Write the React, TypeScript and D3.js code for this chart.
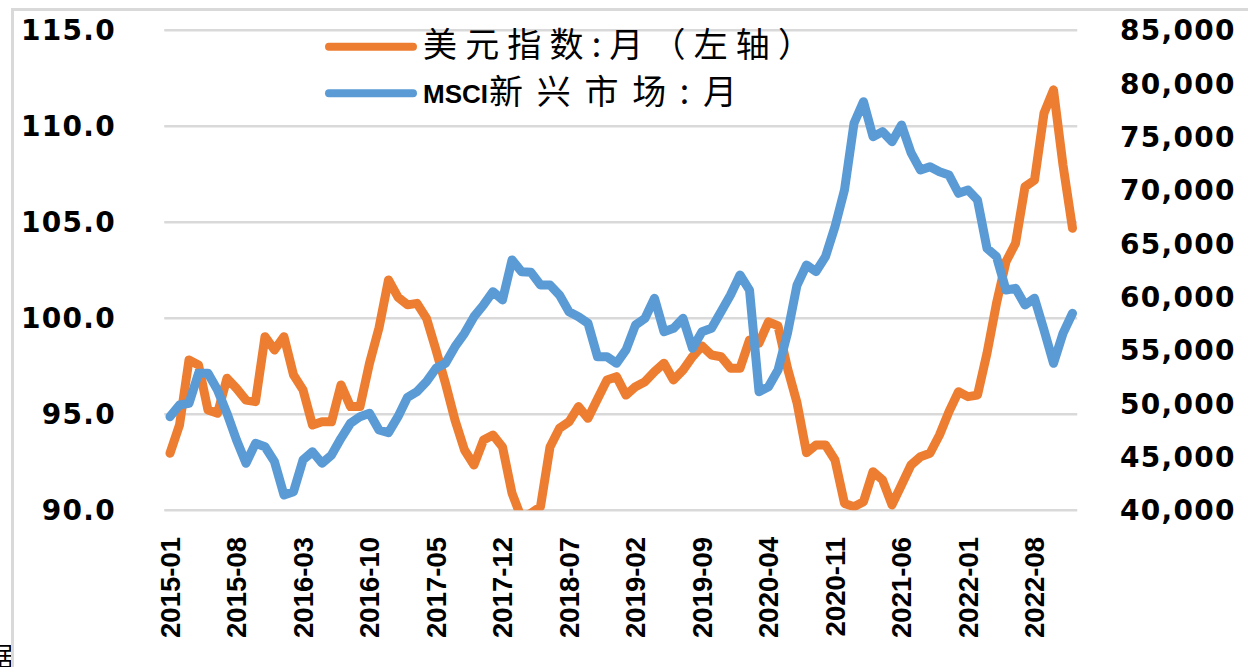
import React, { useEffect, useRef } from "react";
import * as d3 from "d3";

// monthly categories 2015-01 .. 2022-12
const months: string[] = d3
	.timeMonth.range(new Date(2015, 0, 1), new Date(2023, 0, 1))
	.map((d) => d3.timeFormat("%Y-%m")(d));

// shown tick labels on the category axis
const tickLabels = [
	"2015-01", "2015-08", "2016-03", "2016-10", "2017-05", "2017-12", "2018-07",
	"2019-02", "2019-09", "2020-04", "2020-11", "2021-06", "2022-01", "2022-08",
];

// 美元指数 (left axis)
const dxy = [
	92.97, 94.44, 97.83, 97.57, 95.22, 95.05, 96.88, 96.35, 95.74, 95.66,
	99.04, 98.35, 99.04, 97.05, 96.27, 94.44, 94.61, 94.61, 96.53, 95.4,
	95.4, 97.66, 99.5, 102.0, 101.1, 100.7, 100.78, 100.0, 98.35, 96.6,
	94.7, 93.14, 92.36, 93.66, 93.92, 93.3, 90.89, 89.6, 89.85, 90.19,
	93.3, 94.27, 94.61, 95.4, 94.79, 95.8, 96.79, 96.96, 96.0, 96.44,
	96.7, 97.22, 97.66, 96.79, 97.3, 98.0, 98.56, 98.09, 98.0, 97.4,
	97.4, 98.87, 98.7, 99.82, 99.6, 97.4, 95.6, 93.0, 93.4, 93.4,
	92.62, 90.36, 90.19, 90.45, 92.01, 91.58, 90.28, 91.32, 92.36, 92.79,
	92.97, 93.92, 95.14, 96.18, 95.92, 96.0, 98.18, 100.78, 102.95, 103.9,
	106.85, 107.2, 110.68, 111.9, 107.98, 104.69,
];

// MSCI新兴市场 (right axis)
const msci = [
	48775, 49870, 50030, 52840, 52840, 51280, 49090, 46590, 44410, 46280,
	45960, 44560, 41430, 41740, 44720, 45490, 44410, 45180, 46750, 48160,
	48780, 49090, 47530, 47280, 48780, 50590, 51120, 52060, 53310, 53780,
	55340, 56590, 58150, 59250, 60500, 59720, 63470, 62370, 62310, 61120,
	61120, 60180, 58620, 58150, 57530, 54400, 54400, 53780, 55030, 57370,
	58000, 59880, 56740, 57060, 58000, 55190, 56740, 57060, 58620, 60180,
	62060, 60650, 51120, 51590, 53150, 56600, 61100, 63000, 62370, 63780,
	66590, 70030, 76280, 78310, 75030, 75500, 74560, 76120, 73530, 71900,
	72210, 71740, 71430, 69720, 70030, 69090, 64560, 63780, 60650, 60810,
	59250, 59880, 56900, 53780, 56590, 58470,
];

const leftTicks = [90, 95, 100, 105, 110, 115];
const rightTicks = [40000, 45000, 50000, 55000, 60000, 65000, 70000, 75000, 80000, 85000];

const ORANGE = "#ED7D31";
const BLUE = "#5B9BD5";
const GRID = "#d9d9d9";

const App = () => {
	const svgRef = useRef<SVGSVGElement>(null);

	useEffect(() => {
		const W = 1248;
		const H = 667;
		const plot = { left: 165.25, right: 1077.25, top: 30.3, bottom: 510.3 };

		const svg = d3.select(svgRef.current).attr("width", W).attr("height", H);
		svg.selectAll("*").remove();

		// cut-off source note behind the chart frame
		svg
			.append("text")
			.attr("x", 13)
			.attr("y", 666)
			.attr("text-anchor", "end")
			.style("font-family", "'Noto Sans CJK SC'")
			.style("font-size", "26px")
			.text("据");

		// chart frame
		svg
			.append("rect")
			.attr("x", 12.5)
			.attr("y", 9.5)
			.attr("width", W + 20)
			.attr("height", H + 20)
			.attr("fill", "#fff")
			.attr("stroke", GRID)
			.attr("stroke-width", 3);

		const x = d3.scaleBand().domain(months).range([plot.left, plot.right]);
		const cx = (m: string) => (x(m) as number) + x.bandwidth() / 2;
		const yL = d3.scaleLinear().domain([90, 115]).range([plot.bottom, plot.top]);
		const yR = d3.scaleLinear().domain([40000, 85000]).range([plot.bottom, plot.top]);

		// gridlines
		svg
			.append("g")
			.selectAll("line")
			.data(leftTicks)
			.enter()
			.append("line")
			.attr("x1", plot.left - 1)
			.attr("x2", plot.right)
			.attr("y1", (d) => yL(d))
			.attr("y2", (d) => yL(d))
			.attr("stroke", GRID)
			.attr("stroke-width", 2.5);

		// left axis labels
		svg
			.append("g")
			.selectAll("text")
			.data(leftTicks)
			.enter()
			.append("text")
			.attr("x", 116)
			.attr("y", (d) => yL(d))
			.attr("dy", "0.36em")
			.attr("text-anchor", "end")
			.style("font-family", "'DejaVu Sans'")
			.style("font-weight", "bold")
			.style("font-size", "28px")
			.style("letter-spacing", "1.3px")
			.text((d) => d3.format(".1f")(d));

		// right axis labels
		svg
			.append("g")
			.selectAll("text")
			.data(rightTicks)
			.enter()
			.append("text")
			.attr("x", 1120)
			.attr("y", (d) => yR(d))
			.attr("dy", "0.36em")
			.attr("text-anchor", "start")
			.style("font-family", "'DejaVu Sans'")
			.style("font-weight", "bold")
			.style("font-size", "28px")
			.style("letter-spacing", "1.3px")
			.text((d) => d3.format(",")(d));

		// category labels, rotated
		svg
			.append("g")
			.selectAll("text")
			.data(tickLabels)
			.enter()
			.append("text")
			.attr("transform", (d) => `translate(${cx(d)},537) rotate(-90)`)
			.attr("dy", "0.36em")
			.attr("text-anchor", "end")
			.style("font-family", "'Liberation Sans'")
			.style("font-weight", "bold")
			.style("font-size", "27.5px")
			.text((d) => d);

		// clip lines to plot area
		svg
			.append("clipPath")
			.attr("id", "plot-clip")
			.append("rect")
			.attr("x", plot.left - 10)
			.attr("y", plot.top - 10)
			.attr("width", plot.right - plot.left + 20)
			.attr("height", plot.bottom - plot.top + 10);

		const lines = svg.append("g").attr("clip-path", "url(#plot-clip)");

		const dxyLine = d3
			.line<number>()
			.x((_, i) => cx(months[i]))
			.y((d) => yL(d));
		const msciLine = d3
			.line<number>()
			.x((_, i) => cx(months[i]))
			.y((d) => yR(d));

		lines
			.append("path")
			.datum(dxy)
			.attr("d", dxyLine)
			.attr("fill", "none")
			.attr("stroke", ORANGE)
			.attr("stroke-width", 9)
			.attr("stroke-linejoin", "round")
			.attr("stroke-linecap", "round");

		lines
			.append("path")
			.datum(msci)
			.attr("d", msciLine)
			.attr("fill", "none")
			.attr("stroke", BLUE)
			.attr("stroke-width", 9)
			.attr("stroke-linejoin", "round")
			.attr("stroke-linecap", "round");

		// legend
		const legend = svg.append("g");
		[
			{ color: ORANGE, y: 46.7 },
			{ color: BLUE, y: 93.3 },
		].forEach((l) => {
			legend
				.append("line")
				.attr("x1", 329)
				.attr("x2", 413)
				.attr("y1", l.y)
				.attr("y2", l.y)
				.attr("stroke", l.color)
				.attr("stroke-width", 8)
				.attr("stroke-linecap", "round");
		});

		legend
			.append("text")
			.attr("x", 423)
			.attr("y", 57)
			.attr("textLength", 389)
			.attr("lengthAdjust", "spacing")
			.style("font-family", "'Noto Sans CJK SC'")
			.style("font-size", "34px")
			.text("美元指数:月（左轴）");

		legend
			.append("text")
			.attr("x", 423)
			.attr("y", 103)
			.style("font-family", "'Liberation Sans'")
			.style("font-weight", "bold")
			.style("font-size", "26px")
			.text("MSCI");

		legend
			.append("text")
			.attr("x", 489)
			.attr("y", 104)
			.attr("textLength", 248)
			.attr("lengthAdjust", "spacing")
			.style("font-family", "'Noto Sans CJK SC'")
			.style("font-size", "34px")
			.text("新兴市场:月");
	}, []);

	return (
		<div style={{ position: "fixed", left: 0, top: 0, background: "#fff" }}>
			<svg ref={svgRef} style={{ display: "block" }}></svg>
		</div>
	);
};

export default App;
